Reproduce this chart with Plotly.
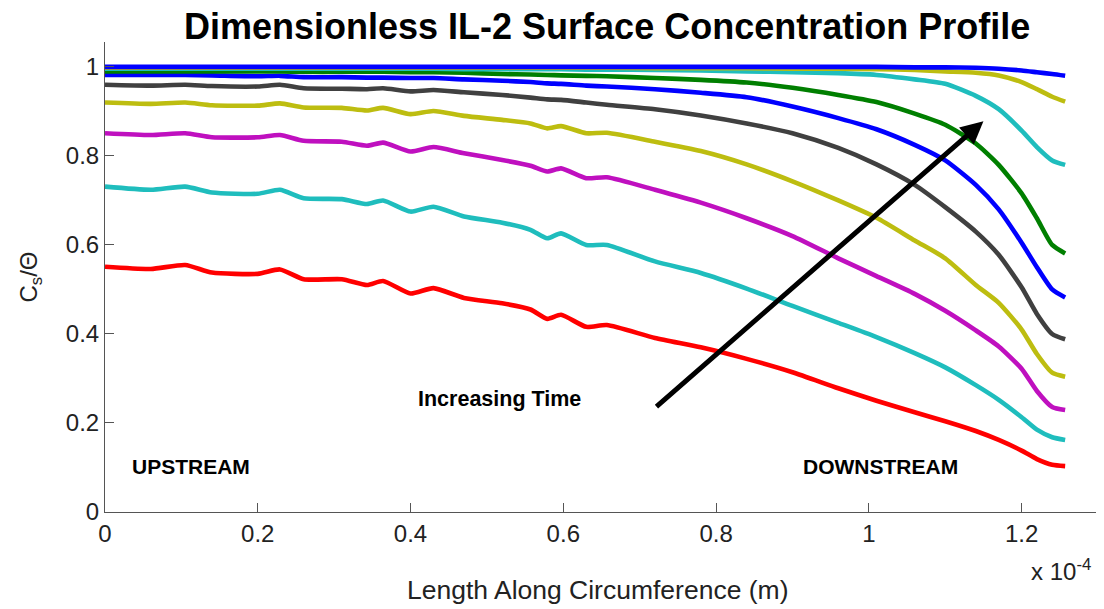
import plotly.graph_objects as go

# x positions in units of 1e-4 m
X = [0, 0.06, 0.105, 0.14, 0.2, 0.229, 0.26, 0.31, 0.343, 0.364, 0.40, 0.43, 0.47, 0.52, 0.557,
     0.579, 0.597, 0.63, 0.657, 0.72, 0.78, 0.84, 0.90, 0.96, 1.01, 1.06, 1.10, 1.14, 1.17, 1.20,
     1.22, 1.24, 1.257]

red = [0.551, 0.546, 0.555, 0.538, 0.535, 0.545, 0.523, 0.523, 0.510, 0.519, 0.491, 0.503, 0.481,
       0.469, 0.455, 0.434, 0.443, 0.416, 0.420, 0.391, 0.370, 0.344, 0.314, 0.278, 0.250, 0.224,
       0.204, 0.182, 0.162, 0.138, 0.119, 0.106, 0.103]
cyan1 = [0.731, 0.724, 0.731, 0.718, 0.715, 0.724, 0.705, 0.703, 0.692, 0.700, 0.675, 0.686, 0.664,
         0.650, 0.634, 0.615, 0.626, 0.600, 0.600, 0.563, 0.537, 0.502, 0.463, 0.425, 0.393, 0.357,
         0.325, 0.285, 0.252, 0.213, 0.185, 0.168, 0.162]
magenta = [0.851, 0.847, 0.851, 0.842, 0.842, 0.847, 0.834, 0.832, 0.823, 0.830, 0.810, 0.820, 0.806,
           0.791, 0.778, 0.765, 0.772, 0.750, 0.752, 0.724, 0.695, 0.660, 0.620, 0.570, 0.530, 0.490,
           0.452, 0.408, 0.372, 0.322, 0.272, 0.236, 0.229]
yellow1 = [0.920, 0.917, 0.920, 0.914, 0.913, 0.918, 0.909, 0.908, 0.902, 0.908, 0.894, 0.901, 0.890,
           0.881, 0.873, 0.862, 0.867, 0.851, 0.852, 0.832, 0.811, 0.781, 0.743, 0.700, 0.661, 0.610,
           0.570, 0.510, 0.470, 0.410, 0.355, 0.313, 0.304]
gray = [0.960, 0.958, 0.960, 0.957, 0.956, 0.960, 0.952, 0.951, 0.950, 0.952, 0.945, 0.948, 0.943,
        0.937, 0.931, 0.927, 0.926, 0.920, 0.915, 0.905, 0.891, 0.873, 0.851, 0.818, 0.781, 0.735,
        0.685, 0.630, 0.578, 0.505, 0.445, 0.400, 0.388]
blue1 = [0.982, 0.982, 0.982, 0.981, 0.979, 0.980, 0.977, 0.977, 0.976, 0.976, 0.975, 0.975, 0.972,
         0.969, 0.966, 0.963, 0.962, 0.958, 0.956, 0.950, 0.942, 0.932, 0.911, 0.885, 0.860, 0.825,
         0.790, 0.735, 0.680, 0.605, 0.550, 0.500, 0.482]
green = [0.990, 0.990, 0.990, 0.990, 0.990, 0.990, 0.989, 0.989, 0.989, 0.989, 0.988, 0.988, 0.987,
         0.984, 0.983, 0.982, 0.981, 0.980, 0.979, 0.975, 0.971, 0.965, 0.953, 0.937, 0.921, 0.895,
         0.870, 0.828, 0.780, 0.716, 0.660, 0.600, 0.581]
cyan2 = [0.996, 0.996, 0.996, 0.996, 0.996, 0.996, 0.996, 0.996, 0.996, 0.996, 0.996, 0.996, 0.995,
         0.995, 0.995, 0.995, 0.995, 0.994, 0.994, 0.993, 0.992, 0.990, 0.988, 0.986, 0.982, 0.972,
         0.962, 0.935, 0.905, 0.857, 0.820, 0.790, 0.780]
yellow2 = [0.998, 0.998, 0.998, 0.998, 0.998, 0.998, 0.998, 0.998, 0.998, 0.998, 0.998, 0.998, 0.998,
           0.998, 0.998, 0.998, 0.998, 0.998, 0.998, 0.997, 0.997, 0.997, 0.996, 0.996, 0.995, 0.993,
           0.990, 0.987, 0.981, 0.966, 0.950, 0.933, 0.922]
blue2 = [1.000, 1.000, 1.000, 1.000, 1.000, 1.000, 1.000, 1.000, 1.000, 1.000, 1.000, 1.000, 1.000,
         1.000, 1.000, 1.000, 1.000, 1.000, 1.000, 1.000, 1.000, 1.000, 1.000, 1.000, 1.000, 0.999,
         0.999, 0.998, 0.996, 0.992, 0.988, 0.984, 0.980]

series = [red, cyan1, magenta, yellow1, gray, blue1, green, cyan2, yellow2, blue2]
colors = ["#FF0000", "#1FBDBD", "#BF10BF", "#BDBD10", "#404040", "#0000FF", "#007F00",
          "#1FBDBD", "#BDBD10", "#0000FF"]

x_tickvals = [0, 0.2, 0.4, 0.6, 0.8, 1.0, 1.2]
x_ticktext = ["0", "0.2", "0.4", "0.6", "0.8", "1", "1.2"]
y_tickvals = [0, 0.2, 0.4, 0.6, 0.8, 1.0]
y_ticktext = ["0", "0.2", "0.4", "0.6", "0.8", "1"]

arrow_tail = (0.720, 0.234)
arrow_head = (1.150, 0.878)

fig = go.Figure()
for ys, c in zip(series, colors):
    fig.add_trace(go.Scatter(x=X, y=ys, mode="lines",
                             line=dict(color=c, width=4.6, shape="spline", smoothing=0.6),
                             showlegend=False, hoverinfo="skip"))

base_font = "Arial, Liberation Sans, sans-serif"
bold_font = "Liberation Sans Narrow, Arial Narrow, Liberation Sans, Arial, sans-serif"
axis_col = "#555555"

# page body adds an 8px offset, so the figure is 8px smaller and margins compensate
fig.update_layout(
    width=1096, height=601,
    margin=dict(l=97, r=6, t=34, b=97),
    paper_bgcolor="white", plot_bgcolor="white",
    font=dict(family=base_font, size=24, color="#222222"),
    xaxis=dict(range=[0, 1.30], tickvals=x_tickvals, ticktext=x_ticktext, ticks="inside",
               ticklen=9, tickcolor=axis_col, showline=True, linecolor=axis_col, linewidth=1,
               showgrid=False, zeroline=False, tickfont=dict(size=24, color="#222222")),
    yaxis=dict(range=[0, 1.056], tickvals=y_tickvals, ticktext=y_ticktext, ticks="inside",
               ticklen=9, tickcolor=axis_col, showline=True, linecolor=axis_col, linewidth=1,
               showgrid=False, zeroline=False, tickfont=dict(size=24, color="#222222")),
)

ann = []
ann.append(dict(x=arrow_head[0], y=arrow_head[1], ax=arrow_tail[0], ay=arrow_tail[1],
                xref="x", yref="y", axref="x", ayref="y", text="", showarrow=True,
                arrowhead=2, arrowsize=0.9, arrowwidth=5, arrowcolor="black"))
ann.append(dict(x=0.516, y=0.254, xref="x", yref="y", text="<b>Increasing Time</b>", showarrow=False,
                font=dict(family=bold_font, size=21.5, color="black")))
ann.append(dict(x=0.112, y=0.103, xref="x", yref="y", text="<b>UPSTREAM</b>", showarrow=False,
                font=dict(family=bold_font, size=21, color="black")))
ann.append(dict(x=1.015, y=0.102, xref="x", yref="y", text="<b>DOWNSTREAM</b>", showarrow=False,
                font=dict(family=bold_font, size=21, color="black")))
ann.append(dict(x=0.5055, y=1.034, xref="paper", yref="paper", xanchor="center", yanchor="middle",
                text="<b>Dimensionless IL-2 Surface Concentration Profile</b>", showarrow=False,
                font=dict(family=bold_font, size=36, color="black")))
ann.append(dict(x=0.4955, y=-0.166, xref="paper", yref="paper", xanchor="center", yanchor="middle",
                text="Length Along Circumference (m)", showarrow=False,
                font=dict(family=base_font, size=26.5, color="#222222")))
ann.append(dict(x=0.963, y=-0.123, xref="paper", yref="paper", xanchor="center", yanchor="middle",
                text="x 10<sup>-4</sup>", showarrow=False,
                font=dict(family=base_font, size=24, color="#222222")))
ann.append(dict(x=-0.076, y=0.50, xref="paper", yref="paper", xanchor="center", yanchor="middle",
                text="C<sub>s</sub>/Θ", textangle=-90, showarrow=False,
                font=dict(family=base_font, size=24, color="#222222")))
fig.update_layout(annotations=ann)

fig.write_html("out.html")
